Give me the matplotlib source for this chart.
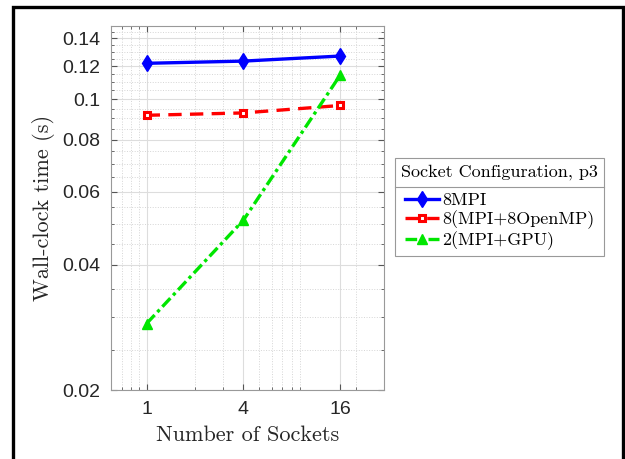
import numpy as np
import matplotlib.pyplot as plt
from matplotlib.ticker import FixedLocator, NullFormatter, MultipleLocator, LogLocator
from matplotlib.lines import Line2D
from matplotlib.patches import Rectangle

sockets = [1, 4, 16]
mpi = [0.122, 0.1235, 0.127]
mpi_omp = [0.0915, 0.0927, 0.0966]
mpi_gpu = [0.0289, 0.0512, 0.1142]
series_names = ["8MPI", "8(MPI+8OpenMP)", "2(MPI+GPU)"]
y_ticks = [0.02, 0.04, 0.06, 0.08, 0.1, 0.12, 0.14]
y_labels = ["0.02", "0.04", "0.06", "0.08", "0.1", "0.12", "0.14"]

serif = "cmr10"
tick_font = "Liberation Sans"

fig = plt.figure(figsize=(6.25, 4.59), dpi=100)
ax = fig.add_axes([0.1776, 0.1503, 0.4368, 0.7931])

ax.plot(sockets, mpi, color="#0000ff", lw=2.4, ls="-", marker="d",
        ms=8, mfc="#0000ff", mec="#0000ff", label=series_names[0])
ax.plot(sockets, mpi_omp, color="#ff0000", lw=2.4, ls=(0, (4, 2.5)), marker="s",
        ms=5, mfc="white", mec="#ff0000", mew=2.2, label=series_names[1])
ax.plot(sockets, mpi_gpu, color="#00e600", lw=2.4, ls=(0, (3.5, 1.2, 1, 1.2)), marker="^",
        ms=7.5, mfc="#00e600", mec="#00e600", label=series_names[2])

ax.set_xscale("log", base=2)
ax.set_yscale("log")
ax.set_xlim(0.6, 30)
ax.set_ylim(0.02, 0.15)

ax.xaxis.set_major_locator(FixedLocator(sockets))
ax.set_xticklabels([str(s) for s in sockets])
ax.xaxis.set_minor_locator(LogLocator(base=10, subs=np.arange(2, 10)))
ax.xaxis.set_minor_formatter(NullFormatter())

ax.yaxis.set_major_locator(FixedLocator(y_ticks))
ax.set_yticklabels(y_labels)
ax.yaxis.set_minor_locator(MultipleLocator(0.005))
ax.yaxis.set_minor_formatter(NullFormatter())

ax.grid(which="major", color="#dddddd", lw=0.8, ls="-")
ax.grid(which="minor", color="#d5d5d5", lw=0.7, ls=":")
ax.set_axisbelow(True)

ax.tick_params(which="both", direction="in", top=True, right=True, color="#555555")
ax.tick_params(which="major", length=4, labelsize=14, labelcolor="#262626", pad=8)
ax.tick_params(which="minor", length=2)
for lab in ax.get_xticklabels() + ax.get_yticklabels():
    lab.set_fontfamily(tick_font)
for sp in ax.spines.values():
    sp.set_color("#999999")
    sp.set_linewidth(0.8)

ax.set_xlabel("Number of Sockets", fontfamily=serif, fontsize=16, color="#262626", labelpad=5)
ax.set_ylabel("Wall-clock time (s)", fontfamily=serif, fontsize=16, color="#262626", labelpad=5)

leg = ax.legend(loc="upper left", bbox_to_anchor=(1.007, 0.662), title="Socket Configuration, p3",
                prop={"family": serif, "size": 13}, title_fontproperties={"family": serif, "size": 13},
                fancybox=False, edgecolor="#999999", framealpha=1, handlelength=1.9,
                handletextpad=0.2, labelspacing=0.12, borderpad=0.35)
leg.get_frame().set_linewidth(0.8)
leg._legend_box.sep = 9

# separator under the legend title, halfway to the first entry
fig.canvas.draw()
inv = fig.transFigure.inverted()
fb = inv.transform_bbox(leg.get_window_extent())
tb = inv.transform_bbox(leg.get_title().get_window_extent())
eb = inv.transform_bbox(leg.get_texts()[0].get_window_extent())
ysep = (tb.y0 + eb.y1) / 2
fig.add_artist(Line2D([fb.x0, fb.x1], [ysep, ysep], color="#999999", lw=0.8,
                      transform=fig.transFigure))

# black frame round the picture
fig.add_artist(Rectangle((13 / 625, -0.05), 610 / 625, 1.05 - 7 / 459, fill=False,
                         ec="black", lw=2.4, transform=fig.transFigure))

fig.savefig("out.png", dpi=100)
